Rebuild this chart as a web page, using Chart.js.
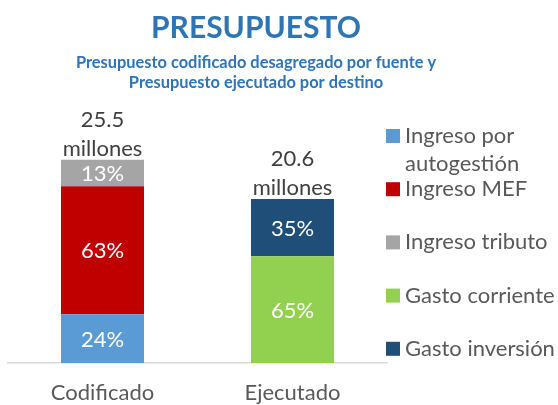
<!DOCTYPE html>
<html><head><meta charset="utf-8">
<script src="https://cdn.jsdelivr.net/npm/chart.js@4/dist/chart.umd.min.js"></script>
<style>html,body{margin:0;padding:0;background:#fff}#wrap{width:558px;height:405px;position:relative}</style>
</head><body><div id="wrap"><canvas id="c" width="558" height="405"></canvas></div>
<script>
// ---- data ----
const categories = ['Codificado', 'Ejecutado'];
const seriesNames = ['Ingreso por autogestión', 'Ingreso MEF', 'Ingreso tributo', 'Gasto corriente', 'Gasto inversión'];
const legendLines = [['Ingreso por', 'autogestión'], ['Ingreso MEF'], ['Ingreso tributo'], ['Gasto corriente'], ['Gasto inversión']];
const autogestion = [6.12, null];   // millones
const mef = [16.07, null];
const tributo = [3.31, null];
const corriente = [null, 13.39];
const inversion = [null, 7.21];
const totals = [25.5, 20.6];
const pctLabels = [['24%', null], ['63%', null], ['13%', null], [null, '65%'], [null, '35%']];
const totalLabels = [['25.5', 'millones'], ['20.6', 'millones']];
const titleText = 'PRESUPUESTO';
const subtitleLines = ['Presupuesto codificado desagregado por fuente y', 'Presupuesto ejecutado por destino'];

// ---- styles ----
const colors = ['#5B9BD5', '#C00000', '#A5A5A5', '#92D050', '#1F4E79'];
const FONT = 'Lato';
const seriesData = [autogestion, mef, tributo, corriente, inversion];

const labelsPlugin = {
  id: 'labelsPlugin',
  afterDatasetsDraw(chart) {
    const ctx = chart.ctx;
    ctx.save();
    ctx.font = '22px ' + FONT;
    ctx.fillStyle = '#FFFFFF';
    ctx.textAlign = 'center';
    ctx.textBaseline = 'middle';
    seriesData.forEach((d, i) => {
      const meta = chart.getDatasetMeta(i);
      meta.data.forEach((el, j) => {
        const t = pctLabels[i][j];
        if (!t || d[j] == null) return;
        ctx.fillText(t, el.x, (el.y + el.base) / 2 + 1);
      });
    });
    const xs = chart.scales.x, ys = chart.scales.y;
    ctx.fillStyle = '#404040';
    ctx.textBaseline = 'alphabetic';
    totals.forEach((t, j) => {
      const x = xs.getPixelForValue(j);
      const top = ys.getPixelForValue(t);
      const lines = totalLabels[j];
      for (let k = 0; k < lines.length; k++) {
        ctx.fillText(lines[lines.length - 1 - k], x, top - 4 - k * 29);
      }
    });
    ctx.restore();
  },
  afterDraw(chart) {
    const ctx = chart.ctx;
    ctx.save();
    ctx.fillStyle = '#2E75B6';
    ctx.textAlign = 'center';
    ctx.textBaseline = 'alphabetic';
    ctx.font = 'bold 30px ' + FONT;
    ctx.fillText(titleText, 256, 38);
    ctx.font = 'bold 16.4px ' + FONT;
    subtitleLines.forEach((s, k) => ctx.fillText(s, 256, 68 + k * 20));
    ctx.textAlign = 'left';
    ctx.font = '22px ' + FONT;
    legendLines.forEach((lines, i) => {
      const cy = 136 + i * 53.2;
      ctx.fillStyle = colors[i];
      ctx.fillRect(386, cy - 7, 14, 14);
      ctx.fillStyle = '#595959';
      lines.forEach((ln, k) => ctx.fillText(ln, 405, cy + 7 + k * 28));
    });
    ctx.restore();
  }
};

new Chart(document.getElementById('c'), {
  type: 'bar',
  data: {
    labels: categories,
    datasets: seriesData.map((d, i) => ({
      label: seriesNames[i],
      data: d,
      backgroundColor: colors[i],
      borderWidth: 0,
      barPercentage: 0.437,
      categoryPercentage: 1.0
    }))
  },
  options: {
    responsive: false,
    animation: false,
    devicePixelRatio: 1,
    layout: { padding: { left: 7.5, right: 170.5, top: 124, bottom: 0 } },
    plugins: { legend: { display: false }, title: { display: false }, tooltip: { enabled: false } },
    scales: {
      x: {
        stacked: true,
        grid: { display: false, drawTicks: false },
        border: { display: true, color: '#D9D9D9', width: 1.5 },
        ticks: { font: { family: FONT, size: 22 }, color: '#595959', padding: 17 },
        afterFit(s) { s.height = 42; }
      },
      y: { stacked: true, display: false, min: 0, max: 30 }
    }
  },
  plugins: [labelsPlugin]
});
</script>
</body></html>
